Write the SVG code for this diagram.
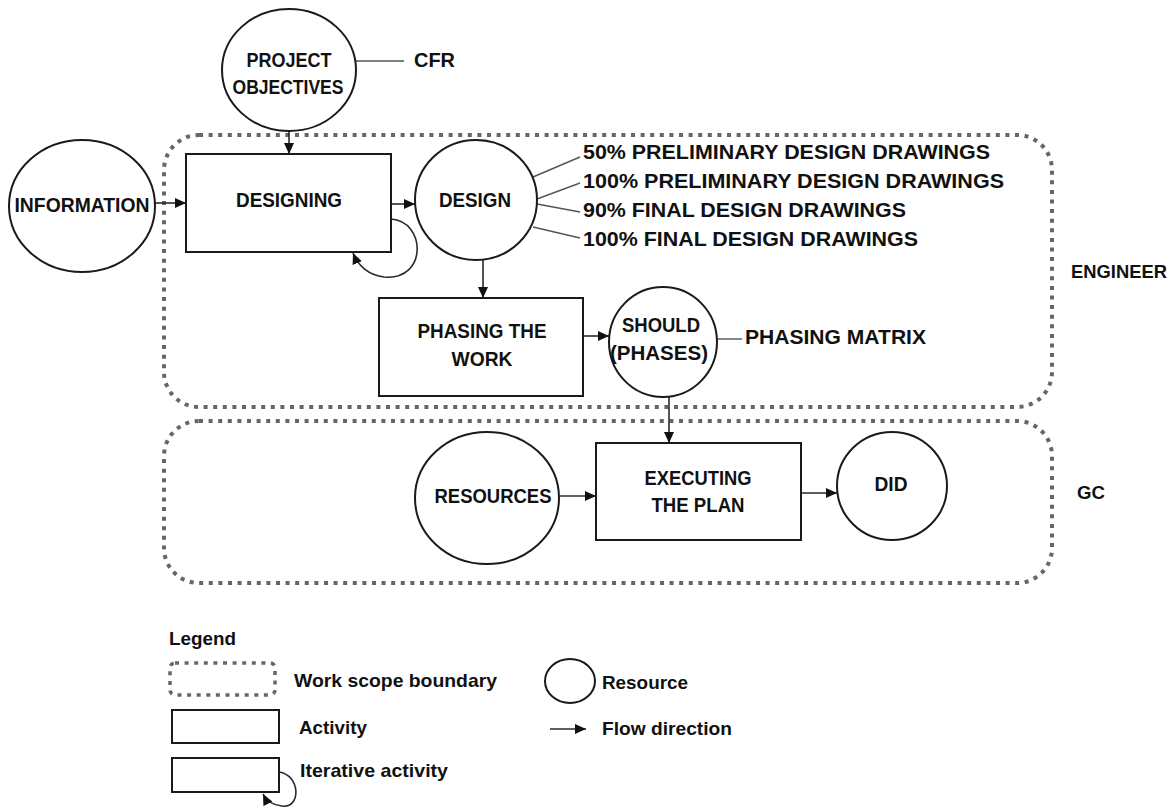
<svg xmlns="http://www.w3.org/2000/svg" width="1173" height="807" viewBox="0 0 1173 807">
  <style>
    .bg { fill: #ffffff; }
    .node { fill: #ffffff; stroke: #1a1a1a; stroke-width: 2; }
    .scope { fill: none; stroke: #666666; stroke-width: 4; stroke-dasharray: 4 5.6; }
    .flow { fill: none; stroke: #2a2a2a; stroke-width: 1.6; }
    .tie { fill: none; stroke: #555555; stroke-width: 1.4; }
    text { font-family: "Liberation Sans", Arial, sans-serif; font-weight: bold; fill: #111111; }
    .lbl { font-size: 21px; text-anchor: middle; }
    .note { font-size: 21px; }
    .side { font-size: 19px; }
    .leg { font-size: 19px; }
  </style>
  <defs>
    <marker id="arrow" viewBox="0 0 11 10" refX="11" refY="5" markerWidth="11" markerHeight="10" markerUnits="userSpaceOnUse" orient="auto">
      <path d="M0,0 L11,5 L0,10 Z" fill="#111111"/>
    </marker>
  </defs>

  <rect class="bg" x="0" y="0" width="1173" height="807"/>

  <!-- work scope boundaries -->
  <g id="scope-engineer">
    <rect class="scope" x="164" y="135" width="888" height="272" rx="35" ry="35"/>
    <text class="side" x="1071" y="278" textLength="96" lengthAdjust="spacingAndGlyphs">ENGINEER</text>
  </g>
  <g id="scope-gc">
    <rect class="scope" x="164" y="421" width="888" height="162" rx="35" ry="35"/>
    <text class="side" x="1077" y="499" textLength="28" lengthAdjust="spacingAndGlyphs">GC</text>
  </g>

  <!-- connectors -->
  <g id="connectors">
    <line class="flow" x1="289" y1="131" x2="289" y2="154" marker-end="url(#arrow)"/>
    <line class="flow" x1="155" y1="203" x2="186" y2="203" marker-end="url(#arrow)"/>
    <line class="flow" x1="391" y1="204" x2="415" y2="204" marker-end="url(#arrow)"/>
    <path class="flow" d="M391,219 C426,221 428,281 384,277 C368,275 358,265 353,253" marker-end="url(#arrow)"/>
    <line class="flow" x1="483" y1="260" x2="483" y2="298" marker-end="url(#arrow)"/>
    <line class="flow" x1="583" y1="336" x2="609" y2="336" marker-end="url(#arrow)"/>
    <line class="flow" x1="669" y1="397" x2="669" y2="443" marker-end="url(#arrow)"/>
    <line class="flow" x1="560" y1="496" x2="596" y2="496" marker-end="url(#arrow)"/>
    <line class="flow" x1="801" y1="493" x2="837" y2="493" marker-end="url(#arrow)"/>
    <!-- attribute ties -->
    <line class="tie" x1="356" y1="61" x2="404" y2="61"/>
    <line class="tie" x1="533" y1="177" x2="580" y2="157"/>
    <line class="tie" x1="537" y1="199" x2="580" y2="183"/>
    <line class="tie" x1="537" y1="204" x2="580" y2="212"/>
    <line class="tie" x1="533" y1="227" x2="580" y2="238"/>
    <line class="tie" x1="717" y1="339" x2="742" y2="339"/>
  </g>

  <g id="project-objectives">
    <ellipse class="node" cx="289" cy="70" rx="67" ry="61"/>
    <text class="lbl" x="289" y="67" textLength="85" lengthAdjust="spacingAndGlyphs">PROJECT</text>
    <text class="lbl" x="288" y="94" textLength="111" lengthAdjust="spacingAndGlyphs">OBJECTIVES</text>
  </g>
  <g id="cfr">
    <text class="note" x="414" y="67" textLength="41" lengthAdjust="spacingAndGlyphs">CFR</text>
  </g>

  <g id="information">
    <ellipse class="node" cx="82" cy="206" rx="73" ry="66"/>
    <text class="lbl" x="82" y="212" textLength="135" lengthAdjust="spacingAndGlyphs">INFORMATION</text>
  </g>

  <g id="designing">
    <rect class="node" x="186" y="154" width="205" height="98"/>
    <text class="lbl" x="289" y="207" textLength="106" lengthAdjust="spacingAndGlyphs">DESIGNING</text>
  </g>

  <g id="design">
    <ellipse class="node" cx="476" cy="200" rx="61" ry="60"/>
    <text class="lbl" x="475" y="207" textLength="72" lengthAdjust="spacingAndGlyphs">DESIGN</text>
  </g>

  <g id="design-deliverables">
    <text class="note" x="583" y="159" textLength="407" lengthAdjust="spacingAndGlyphs">50% PRELIMINARY DESIGN DRAWINGS</text>
    <text class="note" x="583" y="188" textLength="421" lengthAdjust="spacingAndGlyphs">100% PRELIMINARY DESIGN DRAWINGS</text>
    <text class="note" x="583" y="217" textLength="323" lengthAdjust="spacingAndGlyphs">90% FINAL DESIGN DRAWINGS</text>
    <text class="note" x="583" y="246" textLength="335" lengthAdjust="spacingAndGlyphs">100% FINAL DESIGN DRAWINGS</text>
  </g>

  <g id="phasing-the-work">
    <rect class="node" x="379" y="298" width="204" height="98"/>
    <text class="lbl" x="482" y="338" textLength="129" lengthAdjust="spacingAndGlyphs">PHASING THE</text>
    <text class="lbl" x="482" y="366" textLength="61" lengthAdjust="spacingAndGlyphs">WORK</text>
  </g>

  <g id="should-phases">
    <ellipse class="node" cx="663" cy="342" rx="54" ry="55"/>
    <text class="lbl" x="661" y="332" textLength="78" lengthAdjust="spacingAndGlyphs">SHOULD</text>
    <text class="lbl" x="659" y="360" textLength="98" lengthAdjust="spacingAndGlyphs">(PHASES)</text>
  </g>
  <g id="phasing-matrix">
    <text class="note" x="745" y="344" textLength="181" lengthAdjust="spacingAndGlyphs">PHASING MATRIX</text>
  </g>

  <g id="resources">
    <ellipse class="node" cx="487" cy="498" rx="72" ry="66"/>
    <text class="lbl" x="493" y="503" textLength="117" lengthAdjust="spacingAndGlyphs">RESOURCES</text>
  </g>

  <g id="executing-the-plan">
    <rect class="node" x="596" y="443" width="205" height="97"/>
    <text class="lbl" x="698" y="485" textLength="107" lengthAdjust="spacingAndGlyphs">EXECUTING</text>
    <text class="lbl" x="698" y="512" textLength="93" lengthAdjust="spacingAndGlyphs">THE PLAN</text>
  </g>

  <g id="did">
    <ellipse class="node" cx="892" cy="486" rx="55" ry="54"/>
    <text class="lbl" x="891" y="491" textLength="33" lengthAdjust="spacingAndGlyphs">DID</text>
  </g>

  <!-- legend -->
  <g id="legend">
    <text class="leg" x="169" y="645" textLength="67" lengthAdjust="spacingAndGlyphs">Legend</text>
    <rect class="scope" x="170" y="663" width="105" height="32" rx="5" ry="5" style="stroke-width:3.5"/>
    <text class="leg" x="294" y="687" textLength="203" lengthAdjust="spacingAndGlyphs">Work scope boundary</text>
    <rect class="node" x="172" y="710" width="107" height="33"/>
    <text class="leg" x="299" y="734" textLength="68" lengthAdjust="spacingAndGlyphs">Activity</text>
    <rect class="node" x="172" y="758" width="107" height="34"/>
    <path class="flow" d="M279,772 C301,775 301,809 282,806 C272,805 266,800 263,794" marker-end="url(#arrow)"/>
    <text class="leg" x="300" y="777" textLength="148" lengthAdjust="spacingAndGlyphs">Iterative activity</text>
    <ellipse class="node" cx="570" cy="681" rx="25" ry="22"/>
    <text class="leg" x="602" y="689" textLength="86" lengthAdjust="spacingAndGlyphs">Resource</text>
    <line class="flow" x1="550" y1="729" x2="586" y2="729" marker-end="url(#arrow)"/>
    <text class="leg" x="602" y="735" textLength="130" lengthAdjust="spacingAndGlyphs">Flow direction</text>
  </g>
</svg>
